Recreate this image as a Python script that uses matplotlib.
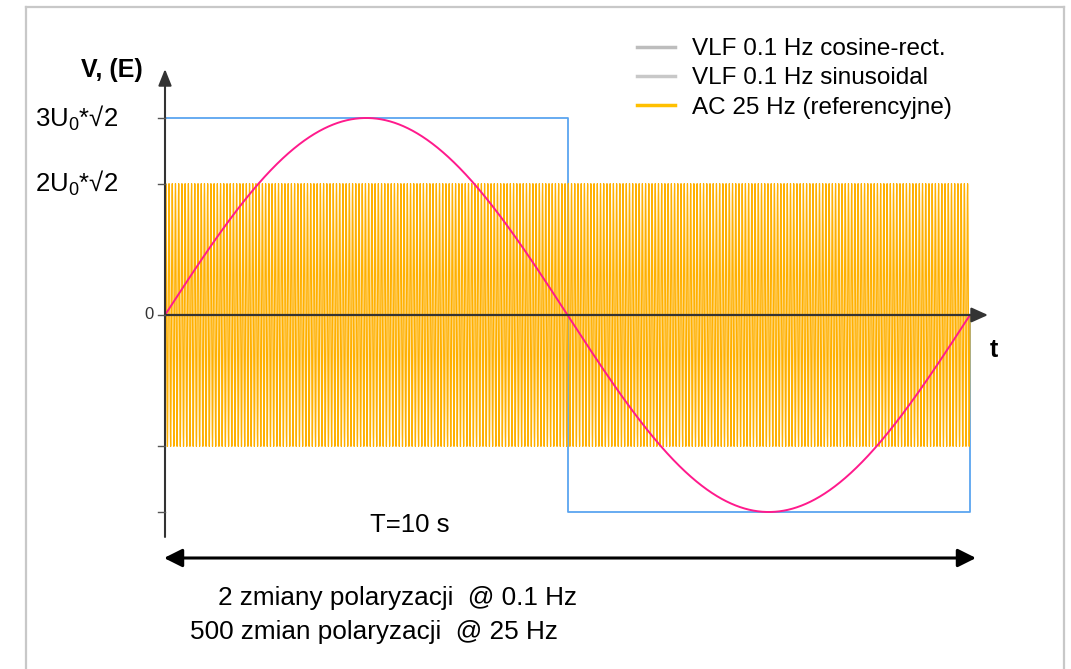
import numpy as np
import matplotlib
matplotlib.use('Agg')
import matplotlib.pyplot as plt
from matplotlib.lines import Line2D

plt.rcParams['font.family'] = ['Liberation Sans', 'DejaVu Sans']
plt.rcParams['mathtext.fontset'] = 'custom'
plt.rcParams['mathtext.rm'] = 'Liberation Sans'
plt.rcParams['mathtext.it'] = 'Liberation Sans:italic'

# waveform parameters
T_PERIOD = 10          # s
VLF_FREQ = 0.1         # Hz
VLF_AMPL = 3
AC_FREQ = 25           # Hz
AC_AMPL = 2

rect_t = [0, 0, 5, 5, 10, 10]
rect_v = [0, 3, 3, -3, -3, 0]

tick_vals = [3, 2, 0, -2, -3]
tick_labels = ['3U$_0$*\u221a2', '2U$_0$*\u221a2', '0', '', '']

legend_labels = ['VLF 0.1 Hz cosine-rect.', 'VLF 0.1 Hz sinusoidal', 'AC 25 Hz (referencyjne)']
legend_colors = ['#bdbdbd', '#c8c8c8', '#ffc000']

W, H = 1071, 669
fig = plt.figure(figsize=(W / 100, H / 100), dpi=100)
ax = fig.add_axes([0, 0, 1, 1])
ax.axis('off')

# pixel layout: t=0 at x=165, t=10 at x=970; v=0 at y=315, v=3 at y=118
x0, xs = 165, 80.5
y0, ys = 315, 65.67
ax.set_xlim(-x0 / xs, (W - x0) / xs)
ax.set_ylim(-(H - y0) / ys, y0 / ys)

t = np.linspace(0, T_PERIOD, 25001)
vlf = VLF_AMPL * np.sin(2 * np.pi * VLF_FREQ * t)
ac = AC_AMPL * np.sin(2 * np.pi * AC_FREQ * t)

ax.plot(rect_t, rect_v, color='#5aa5f0', lw=1.3, zorder=2)
ax.plot(t, ac, color='#ffb000', lw=0.9, zorder=3)
ax.plot(t, vlf, color='#ff1a8c', lw=1.4, zorder=4)

# axes with arrows
axis_col = '#333333'
ax.annotate('', xy=(0, (y0 - 69) / ys), xytext=(0, -3.38),
            arrowprops=dict(arrowstyle='-|>,head_length=1.0,head_width=0.4', mutation_scale=10,
                            lw=1.5, color=axis_col, shrinkA=0, shrinkB=0), zorder=5)
ax.annotate('', xy=((988 - x0) / xs, 0), xytext=(0, 0),
            arrowprops=dict(arrowstyle='-|>,head_length=1.0,head_width=0.45', mutation_scale=10,
                            lw=1.6, color=axis_col, shrinkA=0, shrinkB=0), zorder=5)

for v, lab in zip(tick_vals, tick_labels):
    ax.plot([-7 / xs, 0], [v, v], color='#555555', lw=1, zorder=5)
    if lab == '0':
        ax.text(-11 / xs, v, lab, ha='right', va='center', fontsize=12, color='#333333')
    elif lab:
        ax.text((35 - x0) / xs, v, lab, ha='left', va='center', fontsize=18.5)

ax.text((112 - x0) / xs, (y0 - 70) / ys, 'V, (E)', ha='center', va='center',
        fontsize=18, fontweight='bold')
ax.text((994 - x0) / xs, (y0 - 350) / ys, 't', ha='center', va='center',
        fontsize=18, fontweight='bold')

# period span arrow
ax.annotate('', xy=((976 - x0) / xs, (y0 - 558) / ys), xytext=((164 - x0) / xs, (y0 - 558) / ys),
            arrowprops=dict(arrowstyle='<|-|>,head_length=1.1,head_width=0.55', mutation_scale=10,
                            lw=2.2, color='black', shrinkA=0, shrinkB=0))
ax.text((410 - x0) / xs, (y0 - 525) / ys, 'T=10 s', ha='center', va='center', fontsize=18.5)
ax.text((218 - x0) / xs, (y0 - 598) / ys, '2 zmiany polaryzacji  @ 0.1 Hz', ha='left', va='center',
        fontsize=18.8)
ax.text((190 - x0) / xs, (y0 - 632) / ys, '500 zmian polaryzacji  @ 25 Hz', ha='left', va='center',
        fontsize=18.8)

handles = [Line2D([], [], color=c, lw=2.5) for c in legend_colors]
fig.legend(handles, legend_labels, loc='upper left', bbox_to_anchor=(637 / W, 1 - 38 / H),
           frameon=False, fontsize=17.5, handlelength=1.55, handletextpad=0.72,
           labelspacing=0.3, borderpad=0, borderaxespad=0)

# light grey frame around the picture (open at the bottom)
frame_col = '#c8c8c8'
for xs_, ys_ in [([26, 26], [7, H]), ([26, 1064], [7, 7]), ([1064, 1064], [7, H])]:
    fig.add_artist(Line2D([x / W for x in xs_], [1 - y / H for y in ys_],
                          color=frame_col, lw=1.6, transform=fig.transFigure))

fig.savefig('out.png', dpi=100)
